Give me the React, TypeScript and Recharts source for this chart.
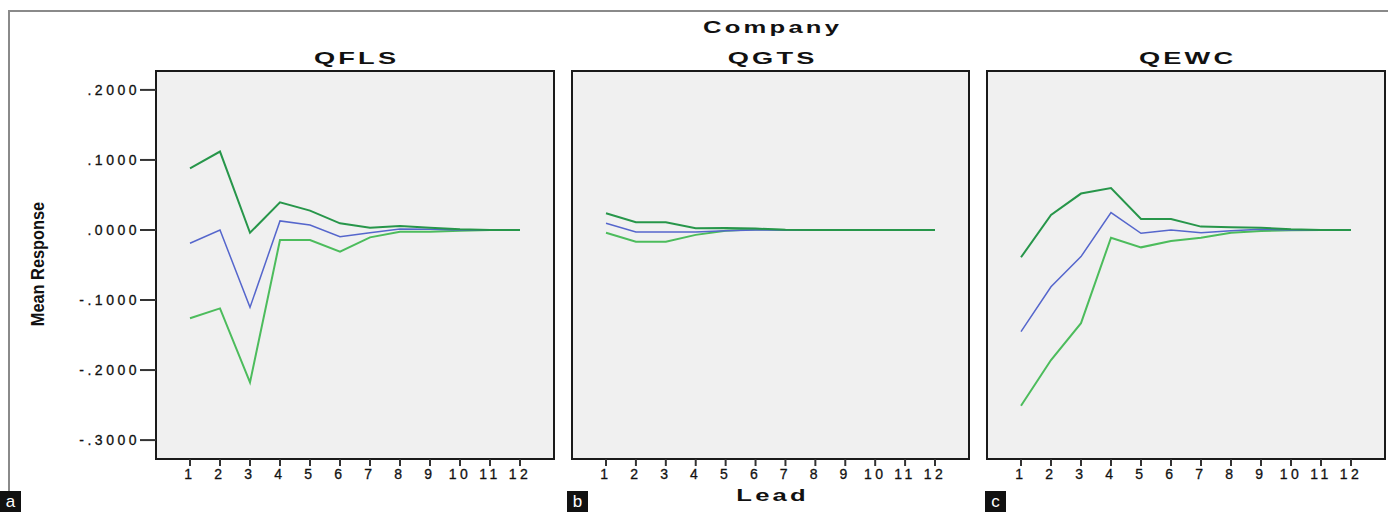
import React from 'react';
import { LineChart, Line, XAxis, YAxis } from 'recharts';

// ─── Data ───

const leads = [1, 2, 3, 4, 5, 6, 7, 8, 9, 10, 11, 12];
const yTicks = [-0.3, -0.2, -0.1, 0, 0.1, 0.2];

const qflsUpper = [0.088, 0.112, -0.004, 0.0395, 0.0276, 0.0095, 0.0033, 0.0057, 0.0033, 0.001, 0, 0];
const qflsMean = [-0.019, 0, -0.1105, 0.0129, 0.0071, -0.0095, -0.0038, 0.0014, 0.001, 0, 0, 0];
const qflsLower = [-0.126, -0.112, -0.2176, -0.0143, -0.0143, -0.031, -0.0105, -0.0024, -0.0024, -0.001, 0, 0];

const qgtsUpper = [0.024, 0.011, 0.011, 0.0024, 0.003, 0.002, 0.0005, 0, 0, 0, 0, 0];
const qgtsMean = [0.0095, -0.003, -0.003, -0.003, -0.001, 0, 0, 0, 0, 0, 0, 0];
const qgtsLower = [-0.004, -0.0167, -0.0167, -0.007, -0.001, 0.001, 0, 0, 0, 0, 0, 0];

const qewcUpper = [-0.039, 0.0214, 0.052, 0.06, 0.0157, 0.0157, 0.0048, 0.004, 0.0033, 0.001, 0, 0];
const qewcMean = [-0.1452, -0.081, -0.038, 0.0248, -0.0048, 0, -0.004, -0.001, 0.001, 0, 0, 0];
const qewcLower = [-0.251, -0.1857, -0.133, -0.011, -0.0248, -0.0157, -0.011, -0.004, -0.0014, -0.0005, 0, 0];

const UPPER_COLOR = '#27964a';
const MEAN_COLOR = '#5566cc';
const LOWER_COLOR = '#4cbc5c';
const FONT = "'Liberation Sans', Arial, sans-serif";

function rows(upper: number[], mean: number[], lower: number[]) {
  return leads.map((lead, i) => ({ lead, upper: upper[i], mean: mean[i], lower: lower[i] }));
}

function fmtY(v: number): string {
  if (v === 0) return '.0000';
  const s = Math.abs(v).toFixed(4).replace(/^0/, '');
  return v < 0 ? `-${s}` : s;
}

// slight stroke thickens the digits like the scanned SPSS output
const tickStyle = {
  fontSize: 14,
  fill: '#111',
  stroke: '#111',
  strokeWidth: 0.3,
  fontFamily: FONT,
  letterSpacing: 3.5,
};

interface PanelProps {
  left: number;
  width: number;
  data: ReturnType<typeof rows>;
  showY?: boolean;
}

// one SPSS-style facet: gray plot box with three lines
function Panel({ left, width, data, showY }: PanelProps) {
  const yw = showY ? 156 : 0;
  const plotLeft = left + yw;
  const plotW = width - yw - (showY ? 16 : 0);
  return (
    <>
      <div
        style={{
          position: 'absolute',
          left: plotLeft - 1,
          top: 70,
          width: plotW + 2,
          height: 390,
          boxSizing: 'border-box',
          border: '2px solid #1a1a1a',
          background: '#f0f0f0',
        }}
      />
      <div style={{ position: 'absolute', left, top: 60 }}>
        <LineChart
          width={width}
          height={430}
          data={data}
          margin={{ top: 11, right: showY ? 16 : 0, bottom: 0, left: 0 }}
        >
          <XAxis
            dataKey="lead"
            type="number"
            domain={[1, 12]}
            ticks={leads}
            padding={{ left: 34, right: 34 }}
            axisLine={false}
            tickSize={7}
            tickMargin={3}
            tickLine={{ stroke: '#333', strokeWidth: 2 }}
            tick={tickStyle}
            height={31}
            interval={0}
          />
          <YAxis
            type="number"
            domain={[-0.327, 0.227]}
            allowDataOverflow
            ticks={yTicks}
            hide={!showY}
            width={156}
            axisLine={false}
            tickSize={16}
            tickMargin={0}
            tickLine={{ stroke: '#333', strokeWidth: 2 }}
            tick={tickStyle}
            tickFormatter={fmtY}
          />
          <Line dataKey="lower" stroke={LOWER_COLOR} strokeWidth={2} dot={false} isAnimationActive={false} />
          <Line dataKey="mean" stroke={MEAN_COLOR} strokeWidth={1.5} dot={false} isAnimationActive={false} />
          <Line dataKey="upper" stroke={UPPER_COLOR} strokeWidth={2} dot={false} isAnimationActive={false} />
        </LineChart>
      </div>
    </>
  );
}

function Title({ x, y, text, size = 17, ls = 2 }: { x: number; y: number; text: string; size?: number; ls?: number }) {
  return (
    <div
      style={{
        position: 'absolute',
        left: x,
        top: y,
        transform: 'translate(-50%, -50%) scaleX(1.6)',
        fontFamily: FONT,
        fontWeight: 'bold',
        fontSize: size,
        letterSpacing: ls,
        paddingLeft: ls,
        whiteSpace: 'nowrap',
        color: '#111',
        lineHeight: 1,
      }}
    >
      {text}
    </div>
  );
}

function Tag({ x, text }: { x: number; text: string }) {
  return (
    <div
      style={{
        position: 'absolute',
        left: x,
        top: 491,
        width: 21,
        height: 21,
        background: '#111',
        color: '#fff',
        fontFamily: FONT,
        fontSize: 17,
        lineHeight: '21px',
        textAlign: 'center',
      }}
    >
      {text}
    </div>
  );
}

export default function App() {
  return (
    <div style={{ position: 'relative', width: 1388, height: 512, background: '#fff', overflow: 'hidden' }}>
      <style>{'body{margin:0}'}</style>
      {/* outer frame: top and left edge only */}
      <div style={{ position: 'absolute', left: 8, top: 10, width: 1380, height: 2, background: '#8a8a8a' }} />
      <div style={{ position: 'absolute', left: 8, top: 10, width: 2, height: 502, background: '#8a8a8a' }} />

      <Title x={771} y={28} text="Company" size={16} />
      <Title x={355} y={58} text="QFLS" />
      <Title x={770.5} y={58} text="QGTS" />
      <Title x={1186} y={58} text="QEWC" />

      <Panel left={0} width={570} data={rows(qflsUpper, qflsMean, qflsLower)} showY />
      <Panel left={572} width={397} data={rows(qgtsUpper, qgtsMean, qgtsLower)} />
      <Panel left={987} width={398} data={rows(qewcUpper, qewcMean, qewcLower)} />

      <div
        style={{
          position: 'absolute',
          left: 36.5,
          top: 264,
          transform: 'translate(-50%, -50%) rotate(-90deg) scaleX(0.86)',
          fontFamily: FONT,
          fontWeight: 'bold',
          fontSize: 19,
          whiteSpace: 'nowrap',
          color: '#111',
          lineHeight: 1,
        }}
      >
        Mean Response
      </div>

      <Title x={771} y={496} text="Lead" size={16} />

      <Tag x={0} text="a" />
      <Tag x={567} text="b" />
      <Tag x={985} text="c" />
    </div>
  );
}
